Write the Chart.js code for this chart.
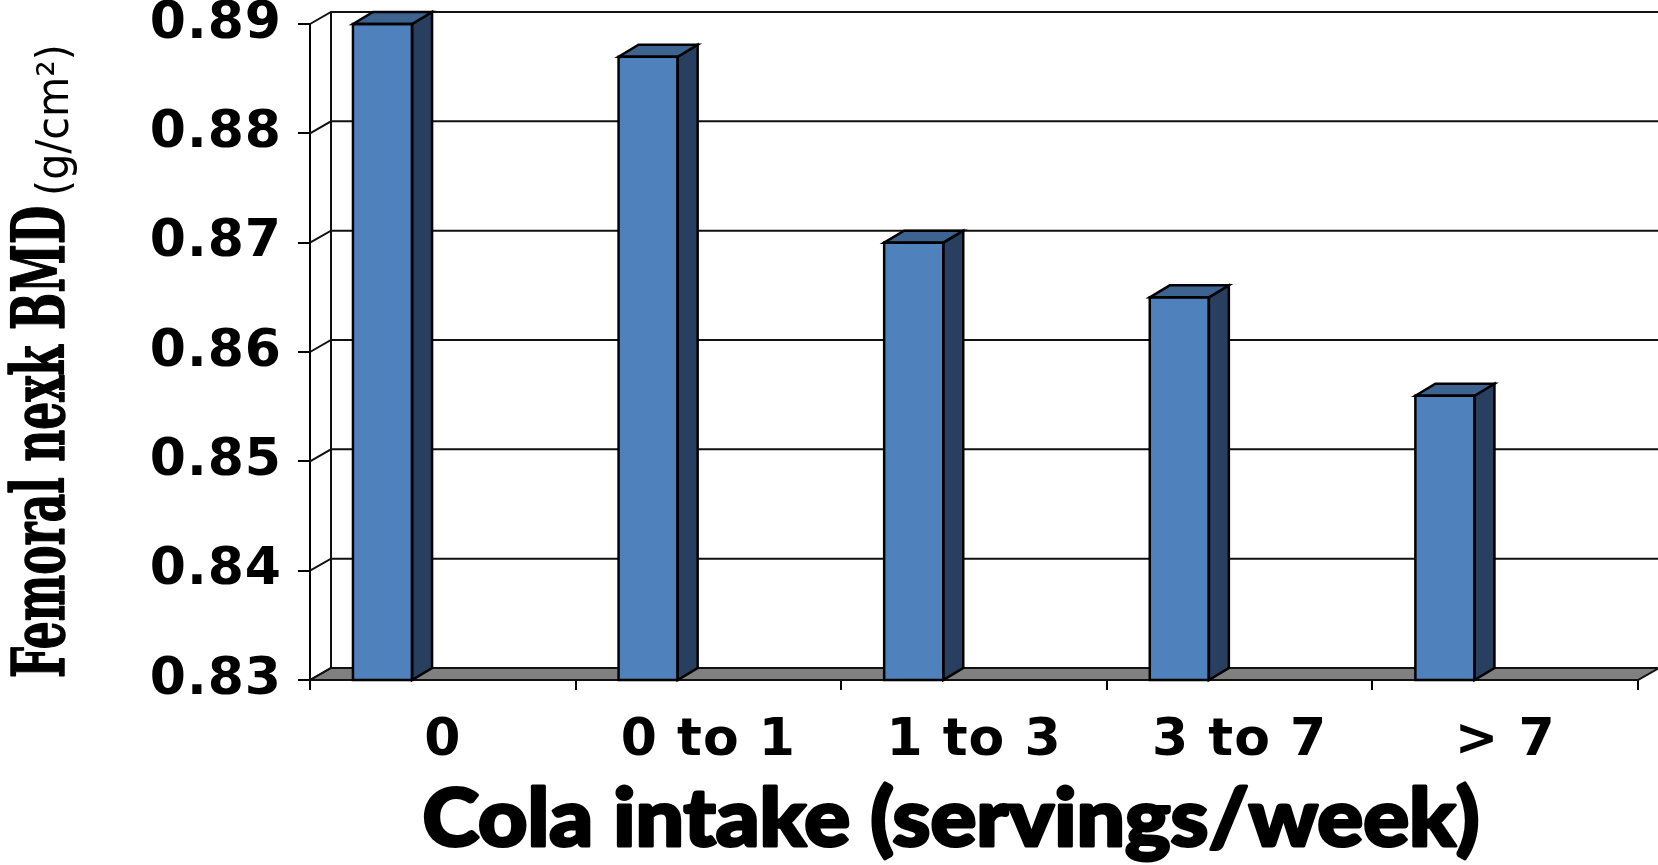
<!DOCTYPE html>
<html>
<head>
<meta charset="utf-8">
<title>Femoral neck BMD by cola intake</title>
<script src="https://cdn.jsdelivr.net/npm/chart.js@4.4.1/dist/chart.umd.min.js"></script>
<style>
  html, body { margin: 0; padding: 0; background: #fff; }
  #wrap { width: 1658px; height: 865px; }
</style>
</head>
<body>
<div id="wrap"><canvas id="bmdChart" width="1658" height="865"></canvas></div>
<script>
// Cola intake groups and mean femoral neck BMD
const intakeGroups = ['0', '0 to 1', '1 to 3', '3 to 7', '> 7'];
const neckBmd = [0.890, 0.887, 0.870, 0.865, 0.856];
// second (empty) series keeps the bars in the left half of each group
const emptySeries = [null, null, null, null, null];
const yTicks = [0.83, 0.84, 0.85, 0.86, 0.87, 0.88, 0.89];

// --- 3D look ---
const wallDX = 21, wallDY = -12;   // depth of walls / floor
const barDX = 20, barDY = -12;     // depth of each bar
const frontColor = '#4f81bd';
const sideColor = '#293f5f';
const topColor = '#3d6390';

function poly(ctx, pts, fill) {
    ctx.beginPath();
    ctx.moveTo(pts[0][0], pts[0][1]);
    for (let i = 1; i < pts.length; i++) ctx.lineTo(pts[i][0], pts[i][1]);
    ctx.closePath();
    if (fill) { ctx.fillStyle = fill; ctx.fill(); }
    ctx.stroke();
}

// heavy text: fill plus a thin stroke of the same colour
function heavyText(ctx, text, x, y, extra) {
    ctx.lineWidth = extra;
    ctx.strokeStyle = '#000';
    ctx.lineJoin = 'round';
    ctx.strokeText(text, x, y);
    ctx.fillText(text, x, y);
}

const excel3d = {
    id: 'excel3d',
    beforeDraw(chart) {
        // slightly wider tick lettering
        chart.ctx.letterSpacing = '1px';
    },
    beforeDatasetsDraw(chart) {
        const { ctx, chartArea: a, scales: { y } } = chart;
        ctx.save();
        ctx.strokeStyle = '#111';
        ctx.lineWidth = 2;
        // floor
        poly(ctx, [
            [a.left, a.bottom],
            [a.left + wallDX, a.bottom + wallDY],
            [a.right + wallDX, a.bottom + wallDY],
            [a.right, a.bottom]
        ], '#808080');
        // gridlines on the back wall, joined to the front axis ticks
        y.ticks.forEach(t => {
            const py = y.getPixelForValue(t.value);
            ctx.beginPath();
            ctx.moveTo(a.left, py);
            ctx.lineTo(a.left + wallDX, py + wallDY);
            ctx.lineTo(a.right + wallDX, py + wallDY);
            ctx.stroke();
        });
        // back wall left edge
        ctx.beginPath();
        ctx.moveTo(a.left + wallDX, y.getPixelForValue(y.max) + wallDY);
        ctx.lineTo(a.left + wallDX, a.bottom + wallDY);
        ctx.stroke();
        ctx.restore();
    },
    afterDatasetsDraw(chart) {
        const { ctx, chartArea: a } = chart;
        ctx.save();
        ctx.strokeStyle = '#000';
        ctx.lineWidth = 2.5;
        ctx.lineJoin = 'miter';
        chart.getDatasetMeta(0).data.forEach(bar => {
            const { x, y: top, base, width } = bar.getProps(['x', 'y', 'base', 'width'], true);
            // bars start below the axis minimum, so stop them at the floor
            const bot = Math.min(base, a.bottom);
            const l = x - width / 2, r = x + width / 2;
            poly(ctx, [[r, top], [r + barDX, top + barDY], [r + barDX, bot + barDY], [r, bot]], sideColor);
            poly(ctx, [[l, top], [l + barDX, top + barDY], [r + barDX, top + barDY], [r, top]], topColor);
            // front outline
            ctx.strokeRect(l, top, width, bot - top);
        });
        ctx.restore();
    },
    afterDraw(chart) {
        const { ctx } = chart;
        ctx.save();
        ctx.letterSpacing = '0px';
        ctx.fillStyle = '#000';
        ctx.textBaseline = 'alphabetic';

        // y axis title, read bottom to top
        ctx.save();
        ctx.translate(64, 678);
        ctx.rotate(-Math.PI / 2);
        ctx.font = 'bold 72px "DejaVu Serif"';
        const main = 'Femoral nexk BMD';
        const mw = ctx.measureText(main).width;
        ctx.save();
        ctx.scale(472 / mw, 1);
        heavyText(ctx, main, 0, 0, 1.5);
        ctx.restore();
        ctx.font = '44px "DejaVu Sans"';
        const unit = '(g/cm²)';
        const uw = ctx.measureText(unit).width;
        ctx.translate(482, 4);
        ctx.scale(152 / uw, 1);
        ctx.fillText(unit, 0, 0);
        ctx.restore();

        // x axis title
        ctx.font = '900 80px Lato';
        const xt = 'Cola intake (servings/week)';
        const xw = ctx.measureText(xt).width;
        ctx.translate(951, 846);
        ctx.scale(1057 / xw, 1);
        ctx.textAlign = 'center';
        heavyText(ctx, xt, 0, 0, 3);
        ctx.restore();
    }
};

new Chart(document.getElementById('bmdChart').getContext('2d'), {
    type: 'bar',
    data: {
        labels: intakeGroups,
        datasets: [
            {
                label: 'Femoral neck BMD',
                data: neckBmd,
                backgroundColor: frontColor,
                borderWidth: 0,
                categoryPercentage: 0.908,
                barPercentage: 0.49
            },
            {
                label: '',
                data: emptySeries,
                categoryPercentage: 0.908,
                barPercentage: 0.49
            }
        ]
    },
    options: {
        responsive: false,
        animation: false,
        layout: { padding: { top: 24, right: 20, left: 0, bottom: 0 } },
        plugins: {
            legend: { display: false },
            tooltip: { enabled: false }
        },
        scales: {
            x: {
                afterFit: s => { s.height = 185; s.paddingLeft = 0; s.paddingRight = 0; },
                grid: {
                    display: true,
                    offset: true,
                    drawOnChartArea: false,
                    drawTicks: true,
                    tickLength: 10,
                    color: '#000',
                    lineWidth: 2
                },
                border: { display: true, color: '#000', width: 2 },
                ticks: {
                    color: '#000',
                    font: { family: 'DejaVu Sans', weight: 'bold', size: 52 },
                    padding: 20,
                    maxRotation: 0,
                    autoSkip: false
                }
            },
            y: {
                min: 0.83,
                max: 0.89,
                afterFit: s => { s.width = 310; s.paddingTop = 0; s.paddingBottom = 0; },
                afterBuildTicks: s => { s.ticks = yTicks.map(v => ({ value: v })); },
                grid: {
                    display: true,
                    drawOnChartArea: false,
                    drawTicks: true,
                    tickLength: 12,
                    color: '#000',
                    lineWidth: 2
                },
                border: { display: true, color: '#000', width: 2 },
                ticks: {
                    color: '#000',
                    font: { family: 'DejaVu Sans', weight: 'bold', size: 52 },
                    padding: 16,
                    callback: v => v.toFixed(2)
                }
            }
        }
    },
    plugins: [excel3d]
});
</script>
</body>
</html>
